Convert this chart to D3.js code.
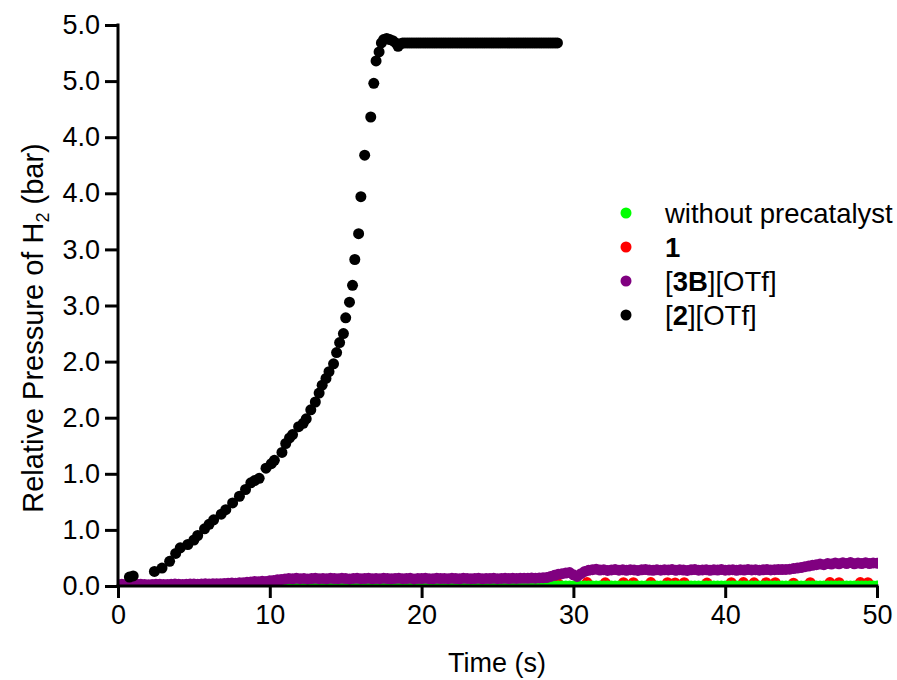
<!DOCTYPE html>
<html><head><meta charset="utf-8">
<script src="https://cdn.jsdelivr.net/npm/d3@7"></script>
<style>
html,body{margin:0;padding:0;background:#fff;}
text{font-family:"Liberation Sans",Arial,sans-serif;fill:#000;}
</style></head>
<body>
<svg id="chart" width="897" height="680"></svg>
<script>
// ---- data ----
const xTicks = [0, 10, 20, 30, 40, 50];
const yTicks = [0, 0.5, 1, 1.5, 2, 2.5, 3, 3.5, 4, 4.5, 5];
const yTickLabels = ["0.0","1.0","1.0","2.0","2.0","3.0","3.0","4.0","4.0","5.0","5.0"];
const seriesNames = ["without precatalyst", "1", "[3B][OTf]", "[2][OTf]"];
const seriesColors = ["#00ff00", "#ff0000", "#800080", "#000000"];

// [2][OTf] (black)
const blackT = [0.75,1.0,2.4,2.9,3.4,3.8,4.1,4.6,5.0,5.25,5.7,6.0,6.3,6.8,7.1,7.55,8.0,8.4,8.75,9.0,9.3,9.75,10.1,10.3,10.8,11.05,11.3,11.5,11.9,12.2,12.4,12.7,13.0,13.25,13.45,13.7,13.9,14.2,14.4,14.6,14.85,15.0,15.25,15.45,15.6,15.85,16.0,16.25,16.65,16.85,17.0,17.2,17.35,17.5,17.7,17.9,18.1,18.3,18.45,
  18.6,18.75,18.9,19.05,19.2,19.35,19.5,19.65,19.8,19.95,20.1,20.25,20.4,20.55,20.7,20.85,21.0,21.15,21.3,21.45,21.6,21.75,21.9,22.05,22.2,22.35,22.5,22.65,22.8,22.95,23.1,23.25,23.4,23.55,23.7,23.85,24.0,24.15,24.3,24.45,24.6,24.75,24.9,25.05,25.2,25.35,25.5,25.65,25.8,25.95,26.1,26.25,26.4,26.55,26.7,26.85,27.0,27.15,27.3,27.45,27.6,27.75,27.9,28.05,28.2,28.35,28.5,28.65,28.8,28.95];
const blackV = [0.08,0.09,0.13,0.16,0.22,0.29,0.34,0.37,0.41,0.45,0.51,0.55,0.59,0.64,0.68,0.74,0.80,0.86,0.92,0.94,0.96,1.05,1.09,1.12,1.19,1.27,1.32,1.35,1.42,1.45,1.49,1.57,1.64,1.72,1.79,1.85,1.91,1.98,2.08,2.17,2.25,2.39,2.53,2.68,2.91,3.14,3.47,3.84,4.18,4.48,4.68,4.76,4.84,4.87,4.88,4.87,4.86,4.84,4.81,
  4.83,4.84,4.84,4.84,4.84,4.84,4.84,4.84,4.84,4.84,4.84,4.84,4.84,4.84,4.84,4.84,4.84,4.84,4.84,4.84,4.84,4.84,4.84,4.84,4.84,4.84,4.84,4.84,4.84,4.84,4.84,4.84,4.84,4.84,4.84,4.84,4.84,4.84,4.84,4.84,4.84,4.84,4.84,4.84,4.84,4.84,4.84,4.84,4.84,4.84,4.84,4.84,4.84,4.84,4.84,4.84,4.84,4.84,4.84,4.84,4.84,4.84,4.84,4.84,4.84,4.84,4.84,4.84,4.84,4.84];

// sampling times shared by the dense series (s)
const gridT = [0,0.25,0.5,0.75,1,1.25,1.5,1.75,2,2.25,2.5,2.75,3,3.25,3.5,3.75,4,4.25,4.5,4.75,5,5.25,5.5,5.75,6,6.25,6.5,6.75,7,7.25,7.5,7.75,8,8.25,8.5,8.75,9,9.25,9.5,9.75,
  10,10.25,10.5,10.75,11,11.25,11.5,11.75,12,12.25,12.5,12.75,13,13.25,13.5,13.75,14,14.25,14.5,14.75,15,15.25,15.5,15.75,16,16.25,16.5,16.75,17,17.25,17.5,17.75,18,18.25,18.5,18.75,19,19.25,19.5,19.75,
  20,20.25,20.5,20.75,21,21.25,21.5,21.75,22,22.25,22.5,22.75,23,23.25,23.5,23.75,24,24.25,24.5,24.75,25,25.25,25.5,25.75,26,26.25,26.5,26.75,27,27.25,27.5,27.75,28,28.25,28.5,28.75,29,29.25,29.5,29.75,
  30,30.25,30.5,30.75,31,31.25,31.5,31.75,32,32.25,32.5,32.75,33,33.25,33.5,33.75,34,34.25,34.5,34.75,35,35.25,35.5,35.75,36,36.25,36.5,36.75,37,37.25,37.5,37.75,38,38.25,38.5,38.75,39,39.25,39.5,39.75,
  40,40.25,40.5,40.75,41,41.25,41.5,41.75,42,42.25,42.5,42.75,43,43.25,43.5,43.75,44,44.25,44.5,44.75,45,45.25,45.5,45.75,46,46.25,46.5,46.75,47,47.25,47.5,47.75,48,48.25,48.5,48.75,49,49.25,49.5,49.75,50];

// [3B][OTf] (purple), one value per gridT entry
const purpleV = [0.012,0.015,0.014,0.012,0.013,0.016,0.015,0.013,0.012,0.014,0.016,0.015,0.013,0.014,0.016,0.017,0.015,0.013,0.016,0.018,0.017,0.015,0.017,0.019,0.018,
  0.019,0.021,0.020,0.023,0.024,0.026,0.025,0.028,0.030,0.033,0.036,0.040,0.038,0.042,0.040,0.046,
  0.050,0.055,0.058,0.062,
  0.066,0.064,0.068,0.065,0.067,0.063,0.066,0.069,0.065,0.067,
  0.064,0.068,0.066,0.065,0.069,0.066,0.063,0.067,0.068,0.065,
  0.066,0.069,0.064,0.067,0.065,0.068,0.066,0.064,0.067,0.069,
  0.065,0.066,0.068,0.063,0.067,0.066,0.069,0.065,0.064,0.068,
  0.066,0.067,0.065,0.069,0.066,0.064,0.068,0.067,0.065,0.066,
  0.069,0.064,0.067,0.066,0.068,0.065,0.067,0.069,0.066,0.068,
  0.067,0.069,0.070,0.068,0.071,0.070,0.072,0.073,
  0.075,0.085,0.095,0.105,0.110,0.115,0.120,0.100,0.085,0.110,0.130,0.140,0.145,0.150,
  0.142,0.145,0.139,0.143,0.146,0.141,0.144,0.140,0.145,0.143,
  0.139,0.144,0.146,0.142,0.140,0.145,0.141,0.144,0.143,0.146,
  0.140,0.145,0.142,0.139,0.144,0.146,0.141,0.143,0.145,0.140,
  0.144,0.142,0.146,0.141,0.143,0.145,0.140,0.144,0.142,0.146,
  0.143,0.145,0.141,0.144,0.146,0.143,0.145,0.147,0.146,0.148,
  0.150,0.155,0.160,0.165,0.172,0.178,0.185,0.190,0.195,0.190,0.200,0.195,0.205,0.198,0.208,0.200,0.210,0.198,0.205,0.200,0.208,0.200,0.206,0.203];

// without precatalyst (green), one value per gridT entry (null = no sample)
const greenV = [null,null,null,null,null,null,null,null,null,null,null,null,null,null,null,null,null,null,null,null,null,null,null,null,null,null,null,null,null,null,null,null,null,null,-0.02,null,null,null,null,null,
  0,0,0,0,0,0,0,0,0,0,0,0,0,0,0,0,0,0,0,0,0,0,0,0,0,0,0,0,0,0,0,0,0,0,0,0,0,0,0,0,
  0,0,0,0,0,0,0,0,0,0,0,0,0,0,0,0,0,0,0,0,0,0,0,0,0,0,0,0,0,0,0,0,0,0,0,0,0,0,0,0,
  0,0,0,0,0,0,0,0,0,0,0,0,0,0,0,0,0,0,0,0,0,0,0,0,0,0,0,0,0,0,0,0,0,0,0,0,0,0,0,0,
  0,0,0,0,0,0,0,0,0,0,0,0,0,0,0,0,0,0,0,0,0,0,0,0,0,0,0,0,0,0,0,0,0,0,0,0,0,0,0,0,0];

// 1 (red)
const redT = [10,14,18,22,26,29,30.9,32.1,33.3,33.95,35.1,36.2,36.7,37.3,38.8,40.4,41.2,41.9,42.7,43.3,44.5,45.6,46.9,47.5,48.9,49.4];
const redV = [0.01,0.01,0.01,0.01,0.01,0.02,0.031,0.028,0.030,0.029,0.031,0.030,0.027,0.029,0.026,0.030,0.031,0.028,0.030,0.029,0.025,0.030,0.031,0.029,0.031,0.030];

// ---- chart ----
const svg = d3.select("#chart");
const x = d3.scaleLinear().domain([0, 50]).range([118, 877]);
const y = d3.scaleLinear().domain([0, 5]).range([586, 25]);
const R = 5.5;
const FONT = 27;

svg.append("defs").append("clipPath").attr("id","clip")
  .append("rect").attr("x", 118).attr("y", 0).attr("width", 760).attr("height", 587);

const plot = svg.append("g").attr("clip-path","url(#clip)");
function drawSeries(ts, vs, color){
  const pts = ts.map((t,i)=>[t, vs[i]]).filter(d => d[1] !== null && d[1] !== undefined);
  plot.append("g").selectAll("circle").data(pts).join("circle")
    .attr("cx", d => x(d[0])).attr("cy", d => y(d[1])).attr("r", R).attr("fill", color);
}

// axes
const xAxis = svg.append("g").attr("transform","translate(0,586)")
  .call(d3.axisBottom(x).tickValues(xTicks).tickSize(12).tickPadding(7).tickFormat(d3.format("d")));
const yAxis = svg.append("g").attr("transform","translate(118,0)")
  .call(d3.axisLeft(y).tickValues(yTicks).tickSize(13).tickPadding(5).tickFormat((d,i)=>yTickLabels[i]));
[xAxis, yAxis].forEach(a => {
  a.select(".domain").attr("stroke","#000").attr("stroke-width",3);
  a.selectAll(".tick line").attr("stroke","#000").attr("stroke-width",3);
  a.selectAll(".tick text").attr("font-size", FONT).attr("font-family",'"Liberation Sans",Arial,sans-serif').attr("fill","#000");
});
xAxis.select(".domain").attr("d","M116.5,0H878.5");
yAxis.select(".domain").attr("d","M0,23.5V587.5");

drawSeries(redT, redV, seriesColors[1]);
drawSeries(gridT, greenV, seriesColors[0]);
drawSeries(gridT, purpleV, seriesColors[2]);
drawSeries(blackT, blackV, seriesColors[3]);

// axis titles
svg.append("text").attr("x", 497).attr("y", 672).attr("text-anchor","middle").attr("font-size", FONT).text("Time (s)");
const yl = svg.append("text").attr("transform","translate(43,328) rotate(-90)").attr("text-anchor","middle").attr("font-size", 29);
yl.append("tspan").text("Relative Pressure of H");
yl.append("tspan").attr("font-size", 18).attr("dy", 6).text("2");
yl.append("tspan").attr("dy", -6).text(" (bar)");

// legend
const legY = [213, 247, 281, 315];
const leg = svg.append("g");
seriesNames.forEach((name, i) => {
  leg.append("circle").attr("cx", 626).attr("cy", legY[i]).attr("r", R).attr("fill", seriesColors[i]);
  const t = leg.append("text").attr("x", 665).attr("y", legY[i]).attr("dy","0.35em").attr("font-size", 27.5);
  if (i === 0) t.text(name);
  else if (i === 1) t.append("tspan").attr("font-weight","bold").text("1");
  else if (i === 2) { t.append("tspan").text("["); t.append("tspan").attr("font-weight","bold").text("3B"); t.append("tspan").text("][OTf]"); }
  else { t.append("tspan").text("["); t.append("tspan").attr("font-weight","bold").text("2"); t.append("tspan").text("][OTf]"); }
});
</script>
</body></html>
